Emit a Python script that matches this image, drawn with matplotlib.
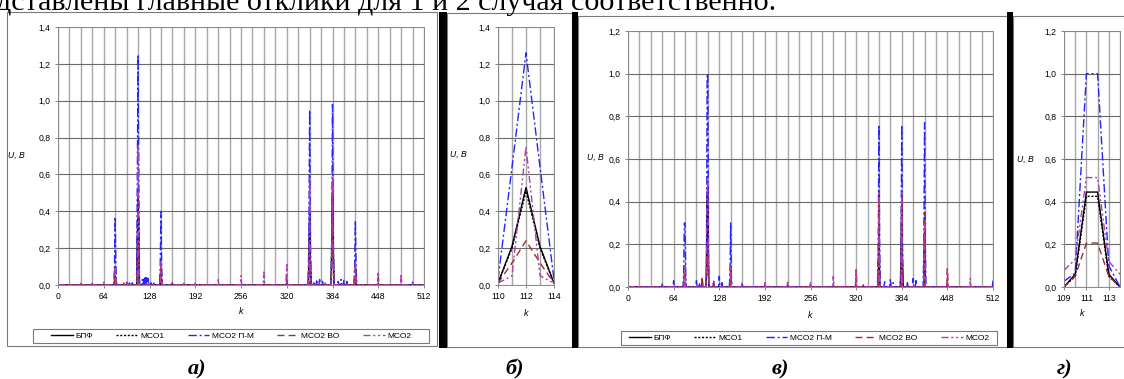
import numpy as np
import matplotlib.pyplot as plt
from matplotlib.patches import Rectangle
from matplotlib.lines import Line2D

plt.rcParams['font.family'] = ['Liberation Sans', 'DejaVu Sans']

W, H = 1124, 379

# --- данные ---
series_names = ['БПФ', 'МСО1', 'МСО2 П-М', 'МСО2 ВО', 'МСО2']

# панель а) k = 0..512, ненулевые отсчёты
a_bpf = {80: 0.05, 111: 0.22, 112: 0.53, 113: 0.22, 144: 0.05, 351: 0.14, 352: 0.40, 353: 0.14,
         383: 0.22, 384: 0.53, 385: 0.22, 416: 0.05}
a_mso1 = {111: 0.21, 112: 0.51, 113: 0.21, 351: 0.13, 352: 0.38, 353: 0.13, 383: 0.21, 384: 0.50, 385: 0.21}
a_pm = {64: 0.01, 79: 0.10, 80: 0.37, 81: 0.10, 92: 0.01, 96: 0.015, 100: 0.02, 104: 0.012,
        111: 0.63, 112: 1.25, 113: 0.63, 118: 0.03, 120: 0.035, 122: 0.04, 124: 0.04, 126: 0.035,
        130: 0.02, 134: 0.01, 143: 0.10, 144: 0.40, 145: 0.10, 160: 0.01, 176: 0.008, 320: 0.01,
        351: 0.30, 352: 0.95, 353: 0.30, 358: 0.02, 362: 0.03, 366: 0.03, 370: 0.02, 374: 0.015,
        383: 0.30, 384: 0.98, 385: 0.30, 392: 0.02, 396: 0.03, 400: 0.025, 404: 0.02, 408: 0.01,
        415: 0.10, 416: 0.35, 417: 0.10, 448: 0.01, 496: 0.015}
a_vo = {79: 0.03, 80: 0.08, 81: 0.03, 111: 0.12, 112: 0.24, 113: 0.12, 143: 0.04, 144: 0.10, 145: 0.04,
        320: 0.05, 352: 0.22, 383: 0.15, 384: 0.50, 385: 0.15, 415: 0.04, 416: 0.12, 417: 0.04, 448: 0.04}
a_mso2 = {16: 0.008, 32: 0.01, 48: 0.01, 64: 0.015, 80: 0.10, 96: 0.012, 111: 0.05, 112: 0.75, 113: 0.05,
          144: 0.12, 160: 0.015, 176: 0.012, 192: 0.01, 224: 0.035, 256: 0.05, 288: 0.07,
          319: 0.02, 320: 0.12, 321: 0.02, 351: 0.10, 352: 0.58, 353: 0.10, 383: 0.10, 384: 0.58,
          385: 0.10, 416: 0.12, 448: 0.065, 480: 0.06}

# панель б) k = 110..114
b_k = [110, 111, 112, 113, 114]
b_bpf = [0.01, 0.21, 0.53, 0.21, 0.01]
b_mso1 = [0.01, 0.20, 0.51, 0.20, 0.01]
b_pm = [0.03, 0.64, 1.26, 0.64, 0.03]
b_vo = [0.01, 0.12, 0.24, 0.12, 0.01]
b_mso2 = [0.01, 0.05, 0.75, 0.05, 0.01]

# панель в) k = 0..512
v_bpf = {110: 0.05, 111: 0.44, 112: 0.44, 113: 0.05, 352: 0.30, 383: 0.10, 384: 0.44, 385: 0.10, 416: 0.25}
v_mso1 = {110: 0.05, 111: 0.42, 112: 0.42, 113: 0.05, 352: 0.28, 383: 0.10, 384: 0.42, 385: 0.10, 416: 0.24}
v_pm = {64: 0.03, 78: 0.05, 79: 0.30, 80: 0.30, 81: 0.05, 96: 0.03, 100: 0.02, 104: 0.04,
        110: 0.06, 111: 1.0, 112: 1.0, 113: 0.10, 120: 0.03, 128: 0.05, 132: 0.02,
        143: 0.05, 144: 0.30, 145: 0.05, 160: 0.02, 176: 0.01, 192: 0.01, 224: 0.01, 256: 0.01,
        288: 0.01, 330: 0.01, 351: 0.20, 352: 0.76, 353: 0.20, 360: 0.03, 368: 0.04, 372: 0.02,
        383: 0.20, 384: 0.76, 385: 0.20, 392: 0.02, 400: 0.04, 404: 0.03,
        415: 0.20, 416: 0.77, 417: 0.20, 480: 0.01, 512: 0.03}
v_vo = {48: 0.015, 79: 0.10, 80: 0.10, 104: 0.05, 110: 0.05, 111: 0.21, 112: 0.21, 113: 0.05,
        120: 0.03, 144: 0.10, 320: 0.08, 352: 0.40, 384: 0.40, 416: 0.35, 448: 0.085}
v_mso2 = {64: 0.01, 80: 0.10, 110: 0.13, 111: 0.51, 112: 0.51, 113: 0.12, 144: 0.10, 160: 0.02,
          192: 0.02, 224: 0.03, 256: 0.02, 288: 0.05, 320: 0.08, 352: 0.45, 384: 0.45,
          416: 0.30, 448: 0.085, 480: 0.04}

# панель г) k = 109..114
g_k = [109, 110, 111, 112, 113, 114]
g_bpf = [0.0, 0.06, 0.445, 0.445, 0.06, 0.0]
g_mso1 = [0.0, 0.05, 0.425, 0.425, 0.05, 0.0]
g_pm = [0.027, 0.065, 1.0, 1.0, 0.10, 0.0]
g_vo = [0.0, 0.05, 0.206, 0.206, 0.05, 0.0]
g_mso2 = [0.078, 0.13, 0.513, 0.513, 0.12, 0.06]

colors = ['black', 'black', '#2424ff', '#a52a2a', '#b03cb0']
styles = ['-', (0, (1.5, 1.2)), (0, (6, 2, 1.5, 2)), (0, (5, 3)), (0, (5, 2, 1.5, 2, 1.5, 2))]


def expand(pts, n=513):
    y = np.zeros(n)
    for k, v in pts.items():
        y[k] = v
    return y


fig = plt.figure(figsize=(W / 100, H / 100), dpi=100)


def px_rect(x0, y0, x1, y1, **kw):
    r = Rectangle((x0 / W, 1 - y1 / H), (x1 - x0) / W, (y1 - y0) / H,
                  transform=fig.transFigure, **kw)
    fig.add_artist(r)


def make_axes(x0, x1, ytop, ybot, xlim, ymax, xticks, xgrid, xlabels=None):
    ax = fig.add_axes([x0 / W, 1 - ybot / H, (x1 - x0) / W, (ybot - ytop) / H])
    ax.set_xlim(*xlim)
    ax.set_ylim(0, ymax)
    yt = np.arange(0, ymax + 0.01, 0.2)
    ax.set_yticks(yt)
    ax.set_yticklabels([f"{v:.1f}".replace('.', ',') for v in yt])
    ax.set_xticks(xticks)
    if xlabels is not None:
        ax.set_xticklabels(xlabels)
    ax.set_xticks(xgrid, minor=True)
    ax.grid(True, axis='x', which='both', color='#a8a8a8', lw=1.0)
    ax.grid(True, axis='y', which='major', color='#6a6a6a', lw=0.8)
    ax.set_axisbelow(True)
    ax.tick_params(which='major', labelsize=6.2, length=2.2, width=0.6, color='#707070', pad=3)
    ax.tick_params(which='minor', length=0)
    for s in ax.spines.values():
        s.set_color('#8a8a8a')
        s.set_linewidth(0.7)
    return ax


def draw(ax, x, ys):
    for y, c, ls in zip(ys, colors, styles):
        ax.plot(x, y, color=c, ls=ls, lw=1.0, solid_joinstyle='miter')


# рамки диаграмм и толстые линии таблицы
px_rect(7, 12, 437, 346, fill=False, edgecolor='#7a7a7a', lw=0.8)
px_rect(447, 13, 572, 347, fill=False, edgecolor='#7a7a7a', lw=0.8)
px_rect(578, 16, 1007, 347, fill=False, edgecolor='#7a7a7a', lw=0.8)
px_rect(1013, 16, 1140, 347, fill=False, edgecolor='#7a7a7a', lw=0.8)
for bx0, bx1 in [(439, 447), (572, 578), (1007, 1013)]:
    px_rect(bx0, 12, bx1, 348, facecolor='black', edgecolor='none')

kk = np.arange(513)

ax_a = make_axes(58, 424, 27, 285, (0, 512), 1.4, np.arange(0, 513, 64), np.arange(0, 513, 16))
draw(ax_a, kk, [expand(a_bpf), expand(a_mso1), expand(a_pm), expand(a_vo), expand(a_mso2)])

ax_b = make_axes(498, 554, 27, 285, (110, 114), 1.4, [110, 112, 114], b_k)
draw(ax_b, b_k, [b_bpf, b_mso1, b_pm, b_vo, b_mso2])

ax_v = make_axes(628, 993, 31, 287, (0, 512), 1.2, np.arange(0, 513, 64), np.arange(0, 513, 16))
draw(ax_v, kk, [expand(v_bpf), expand(v_mso1), expand(v_pm), expand(v_vo), expand(v_mso2)])

ax_g = make_axes(1064, 1120, 31, 287, (109, 114), 1.2, [109, 111, 113], g_k)
draw(ax_g, g_k, [g_bpf, g_mso1, g_pm, g_vo, g_mso2])

# подписи осей
for x, y in [(8, 155), (450, 154), (587, 157), (1017, 159)]:
    fig.text(x / W, 1 - y / H, 'U, B', fontsize=6.2, style='italic', va='center', ha='left')
for x, y in [(241, 312), (526, 313), (810, 315), (1082, 313)]:
    fig.text(x / W, 1 - y / H, 'k', fontsize=6.5, style='italic', va='center', ha='center')

# легенды
handles = [Line2D([], [], color=c, ls=ls, lw=1.0) for c, ls in zip(colors, styles)]
for bx0, by0, bx1, by1 in [(33, 329, 429, 343), (621, 331, 997, 345)]:
    px_rect(bx0, by0, bx1, by1, fill=False, edgecolor='#7a7a7a', lw=0.8)
    fig.legend(handles, series_names, loc='center', ncol=5, frameon=False,
               bbox_to_anchor=((bx0 + bx1) / 2 / W, 1 - (by0 + by1) / 2 / H),
               fontsize=6, handlelength=2.6, handletextpad=0.3, columnspacing=2.8,
               borderpad=0, borderaxespad=0)

# текст документа
fig.text(-4 / W, 1 - 10 / H, 'дставлены главные отклики для 1 и 2 случая соответственно.',
         family=['Liberation Serif', 'DejaVu Serif'], fontsize=21.6, va='baseline', ha='left')
for x, lab in [(197, 'а)'), (515, 'б)'), (780, 'в)'), (1065, 'г)')]:
    fig.text(x / W, 1 - 374 / H, lab, family=['Liberation Serif', 'DejaVu Serif'],
             fontsize=16, weight='bold', style='italic', va='baseline', ha='center')

fig.savefig('out.png', dpi=100)
